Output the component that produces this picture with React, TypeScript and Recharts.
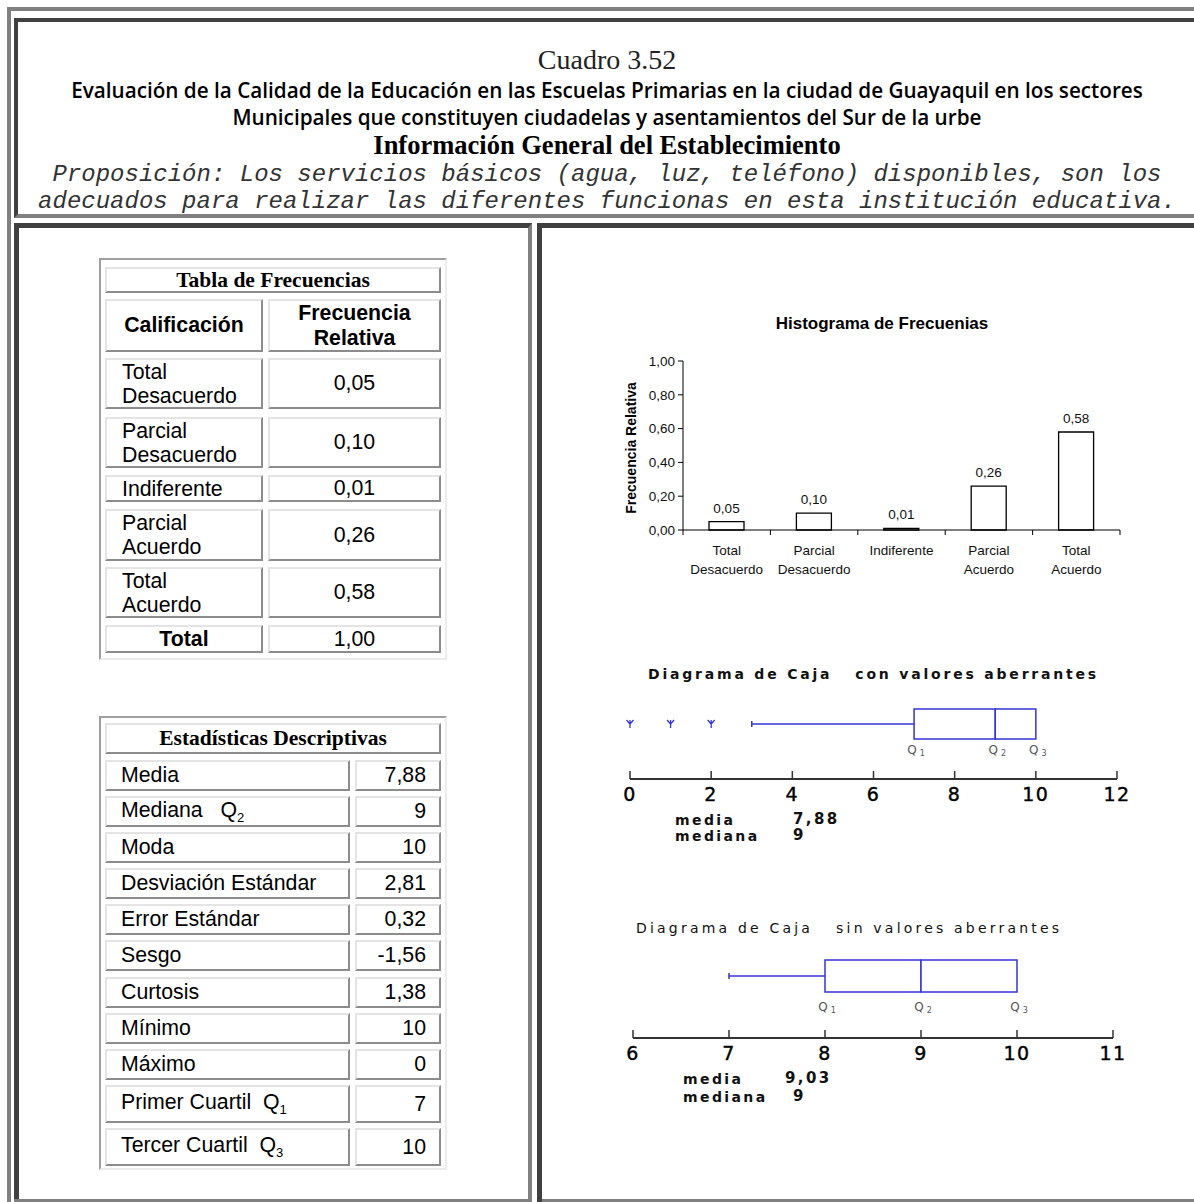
import React from 'react';
import {
  BarChart, Bar, XAxis, YAxis, LabelList,
  ScatterChart, Scatter, ReferenceArea, ReferenceLine,
} from 'recharts';

// ---- data ----
const categories = ['Total Desacuerdo', 'Parcial Desacuerdo', 'Indiferente', 'Parcial Acuerdo', 'Total Acuerdo'];
const relFreq = [0.05, 0.10, 0.01, 0.26, 0.58];
const freqText = ['0,05', '0,10', '0,01', '0,26', '0,58'];
const histTicks = [0, 0.2, 0.4, 0.6, 0.8, 1.0];

const statLabels = ['Media', 'Mediana', 'Moda', 'Desviación Estándar', 'Error Estándar', 'Sesgo', 'Curtosis', 'Mínimo', 'Máximo', 'Primer Cuartil', 'Tercer Cuartil'];
const statSubs = ['', '2', '', '', '', '', '', '', '', '1', '3'];
const statValues = ['7,88', '9', '10', '2,81', '0,32', '-1,56', '1,38', '10', '0', '7', '10'];

// box plot 1 (with outliers): low whisker, Q1, Q2, Q3
const box1Stats = [3, 7, 9, 10];
const box1Outliers = [0, 1, 2];
const box1Ticks = [0, 2, 4, 6, 8, 10, 12];
const box1Media = ['7,88', '9'];

// box plot 2 (without outliers)
const box2Stats = [7, 8, 9, 10];
const box2Ticks = [6, 7, 8, 9, 10, 11];
const box2Media = ['9,03', '9'];

const SANS = "'Liberation Sans', Arial, sans-serif";
const SERIF = "'Liberation Serif', 'Times New Roman', serif";
const WIDE = "'DejaVu Sans', Verdana, sans-serif";
const BLUE = '#3434d6';
const DARK = '#404040';
const GRAY = '#808080';

const abs = (x: number, y: number, w?: number, h?: number): React.CSSProperties => ({
  position: 'absolute', left: x, top: y, width: w, height: h, boxSizing: 'border-box',
});

function Cell({ x1, y1, x2, y2, children, style }: any) {
  return (
    <div style={{
      ...abs(x1, y1, x2 - x1, y2 - y1),
      borderTop: '2px solid #e4e4e4', borderLeft: '2px solid #e4e4e4',
      borderRight: '2px solid #8c8c8c', borderBottom: '2px solid #8c8c8c',
      display: 'flex', alignItems: 'center', fontFamily: SANS, fontSize: 21.3, color: '#000',
      whiteSpace: 'nowrap', ...style,
    }}>{children}</div>
  );
}

function Frame({ x1, y1, x2, y2 }: any) {
  return (
    <div style={{
      ...abs(x1, y1, x2 - x1, y2 - y1),
      borderTop: '2px solid #a0a0a0', borderLeft: '2px solid #a0a0a0',
      borderRight: '2px solid #ececec', borderBottom: '2px solid #ececec',
    }} />
  );
}

function FreqTable() {
  const rows = [[358, 409], [417, 468], [475, 502], [509, 561], [567, 618]];
  return (
    <>
      <Frame x1={99} y1={258} x2={447} y2={660} />
      <Cell x1={105} y1={267} x2={441} y2={293} style={{ justifyContent: 'center', fontFamily: SERIF, fontWeight: 'bold', fontSize: 21.5 }}>Tabla de Frecuencias</Cell>
      <Cell x1={105} y1={299} x2={263} y2={352} style={{ justifyContent: 'center', fontWeight: 'bold' }}>Calificación</Cell>
      <Cell x1={268} y1={299} x2={441} y2={352} style={{ justifyContent: 'center', fontWeight: 'bold', textAlign: 'center', lineHeight: '25px' }}>Frecuencia<br />Relativa</Cell>
      {categories.map((c, i) => (
        <React.Fragment key={c}>
          <Cell x1={105} y1={rows[i][0]} x2={263} y2={rows[i][1]} style={{ paddingLeft: 15, lineHeight: '24px' }}>
            <div>{c.split(' ').map((w, j) => <div key={j}>{w}</div>)}</div>
          </Cell>
          <Cell x1={268} y1={rows[i][0]} x2={441} y2={rows[i][1]} style={{ justifyContent: 'center' }}>{freqText[i]}</Cell>
        </React.Fragment>
      ))}
      <Cell x1={105} y1={625} x2={263} y2={653} style={{ justifyContent: 'center', fontWeight: 'bold' }}>Total</Cell>
      <Cell x1={268} y1={625} x2={441} y2={653} style={{ justifyContent: 'center' }}>1,00</Cell>
    </>
  );
}

function StatsTable() {
  const tops = [760, 796, 832, 868, 904, 940, 977, 1013, 1049, 1085, 1128];
  return (
    <>
      <Frame x1={99} y1={716} x2={447} y2={1170} />
      <Cell x1={105} y1={723} x2={441} y2={754} style={{ justifyContent: 'center', fontFamily: SERIF, fontWeight: 'bold', fontSize: 21.5 }}>Estadísticas Descriptivas</Cell>
      {statLabels.map((s, i) => {
        const h = i >= 9 ? 38 : 31;
        return (
          <React.Fragment key={s}>
            <Cell x1={105} y1={tops[i]} x2={350} y2={tops[i] + h} style={{ paddingLeft: 14 }}>
              <span>{s}{statSubs[i] && <>{i === 1 ? '\u00a0\u00a0\u00a0' : '\u00a0\u00a0'}Q<sub style={{ fontSize: 13 }}>{statSubs[i]}</sub></>}</span>
            </Cell>
            <Cell x1={355} y1={tops[i]} x2={441} y2={tops[i] + h} style={{ justifyContent: 'flex-end', paddingRight: 13 }}>{statValues[i]}</Cell>
          </React.Fragment>
        );
      })}
    </>
  );
}

const histData = categories.map((c, i) => ({ name: c, value: relFreq[i], label: freqText[i] }));

function CatTick(props: any) {
  const { x, y, payload, index } = props;
  const off = payload.offset || 43.7;
  const words = payload.value === 'Indiferente' ? ['Indiferente'] : String(payload.value).split(' ');
  return (
    <g>
      <line x1={x - off} x2={x - off} y1={y} y2={y + 5} stroke="#000" />
      {index === categories.length - 1 && <line x1={x + off} x2={x + off} y1={y} y2={y + 5} stroke="#000" />}
      {words.map((w, i) => (
        <text key={i} x={x} y={y + 25 + i * 19} textAnchor="middle" fontSize={13.5} fontFamily={SANS} fill="#111">{w}</text>
      ))}
    </g>
  );
}

function Histogram() {
  return (
    <div style={abs(600, 300, 540, 290)}>
      <BarChart width={540} height={290} data={histData} margin={{ top: 61, right: 20, left: 30, bottom: 0 }} barSize={35}>
        <XAxis dataKey="name" height={60} interval={0} tickLine={false} tickSize={0} tickMargin={0}
          axisLine={{ stroke: '#000' }} tick={<CatTick />} />
        <XAxis xAxisId="top" dataKey="name" orientation="top" height={0} tick={false} tickLine={false} axisLine={{ stroke: '#a0a0a0' }} />
        <YAxis width={53} domain={[0, 1]} ticks={histTicks} tickSize={5} tickMargin={3}
          axisLine={{ stroke: '#000' }} tickLine={{ stroke: '#000' }}
          tick={{ fontSize: 13.5, fill: '#111', fontFamily: SANS }}
          tickFormatter={(v: number) => v.toFixed(2).replace('.', ',')} />
        <YAxis yAxisId="right" orientation="right" width={0} domain={[0, 1]} tick={false} tickLine={false} axisLine={{ stroke: '#a0a0a0' }} />
        <Bar dataKey="value" fill="#fff" stroke="#000" strokeWidth={1.3} isAnimationActive={false}>
          <LabelList dataKey="label" position="top" offset={9} fontSize={13.5} fill="#111" fontFamily={SANS} />
        </Bar>
      </BarChart>
    </div>
  );
}

function NumTick(props: any) {
  const { x, y, payload } = props;
  return (
    <g>
      <line x1={x} x2={x} y1={y - 8} y2={y} stroke="#333" strokeWidth={1.5} />
      <text x={x} y={y + 22} textAnchor="middle" fontSize={19} fontFamily={WIDE} letterSpacing={1.5} fill="#000" stroke="#000" strokeWidth={0.4}>{payload.value}</text>
    </g>
  );
}

const Star = (p: any) => {
  const { cx, cy } = p;
  return (
    <path d={`M${cx},${cy - 4}L${cx},${cy + 4}M${cx - 3.5},${cy - 4}L${cx},${cy}M${cx + 3.5},${cy - 4}L${cx},${cy}`}
      stroke={BLUE} strokeWidth={1.3} fill="none" />
  );
};

const QText = (p: any) => (
  <text x={p.cx + 2} y={p.cy + 4} textAnchor="middle" fontSize={12} fontFamily={WIDE} fill="#555">
    Q<tspan fontSize={8} dx={3} dy={2}>{p.payload.sub}</tspan>
  </text>
);

function BoxPlot({ top, ml, mr, stats, outliers, ticks, yLo, yHi, yMid, yLbl }: any) {
  const [lw, q1, q2, q3] = stats;
  const qLabels = [{ v: q1, h: yLbl, sub: '1' }, { v: q2, h: yLbl, sub: '2' }, { v: q3, h: yLbl, sub: '3' }];
  const outData = (outliers || []).map((v: number) => ({ v, h: yMid }));
  return (
    <div style={abs(600, top, 560, 200)}>
      <ScatterChart width={560} height={200} margin={{ top: 39, right: mr, left: ml, bottom: 0 }}>
        <XAxis type="number" dataKey="v" domain={[ticks[0], ticks[ticks.length - 1]]} ticks={ticks} height={81}
          tickLine={false} tickSize={0} tickMargin={0} axisLine={{ stroke: '#333', strokeWidth: 2 }}
          tick={<NumTick />} />
        <YAxis type="number" dataKey="h" domain={[0, 8]} hide />
        <ReferenceLine segment={[{ x: lw, y: yMid }, { x: q1, y: yMid }]} stroke={BLUE} strokeWidth={1.5} />
        <ReferenceLine segment={[{ x: lw, y: yMid - 0.3 }, { x: lw, y: yMid + 0.3 }]} stroke={BLUE} strokeWidth={1.5} />
        <ReferenceArea x1={q1} x2={q2} y1={yLo} y2={yHi} fill="#fff" fillOpacity={1} stroke={BLUE} strokeWidth={1.5} />
        <ReferenceArea x1={q2} x2={q3} y1={yLo} y2={yHi} fill="#fff" fillOpacity={1} stroke={BLUE} strokeWidth={1.5} />
        {outData.length > 0 && <Scatter data={outData} shape={<Star />} isAnimationActive={false} />}
        <Scatter data={qLabels} shape={<QText />} isAnimationActive={false} />
      </ScatterChart>
    </div>
  );
}

const boxTitle: React.CSSProperties = {
  fontFamily: WIDE, fontWeight: 'bold', fontSize: 14, letterSpacing: 2.8, whiteSpace: 'pre', color: '#111', lineHeight: '16px',
};
const mediaStyle: React.CSSProperties = {
  fontFamily: WIDE, fontWeight: 'bold', fontSize: 14, letterSpacing: 2.4, whiteSpace: 'pre', color: '#111', lineHeight: '16px',
};

export default function App() {
  const headLine = (y: number, lh: number, style: React.CSSProperties, text: string) => (
    <div style={{ ...abs(14, y - lh / 2, 1186, lh), textAlign: 'center', lineHeight: `${lh}px`, whiteSpace: 'pre', color: '#000', ...style }}>{text}</div>
  );
  return (
    <div style={{ ...abs(0, 0, 1194, 1202), overflow: 'hidden', background: '#fff' }}>
      {/* outer table border */}
      <div style={{ ...abs(7, 7, 1300, 1300), borderTop: `4px solid ${GRAY}`, borderLeft: `4px solid ${GRAY}` }} />
      {/* header cell */}
      <div style={{ ...abs(14, 18, 1300, 200), borderTop: `4px solid ${DARK}`, borderLeft: `4px solid ${DARK}`, borderBottom: `4px solid ${GRAY}` }} />
      {/* left cell */}
      <div style={{ ...abs(14, 223, 518, 1000), borderTop: `5px solid ${DARK}`, borderLeft: `5px solid ${DARK}`, borderRight: `4px solid ${GRAY}` }} />
      <div style={{ ...abs(14, 1199, 518, 3), background: GRAY }} />
      {/* right cell */}
      <div style={{ ...abs(537, 223, 800, 1000), borderTop: `5px solid ${DARK}`, borderLeft: `5px solid ${DARK}` }} />
      <div style={{ ...abs(542, 1199, 800, 3), background: GRAY }} />

      {headLine(60, 32, { fontFamily: SERIF, fontSize: 28, color: '#222' }, 'Cuadro 3.52')}
      {headLine(90, 26, { fontFamily: "'Open Sans', sans-serif", fontWeight: 600, fontSize: 20.7 }, 'Evaluación de la Calidad de la Educación en las Escuelas Primarias en la ciudad de Guayaquil en los sectores')}
      {headLine(117, 26, { fontFamily: "'Open Sans', sans-serif", fontWeight: 600, fontSize: 20.7 }, 'Municipales que constituyen ciudadelas y asentamientos del Sur de la urbe')}
      {headLine(145, 28, { fontFamily: SERIF, fontWeight: 'bold', fontSize: 26.5 }, 'Información General del Establecimiento')}
      {headLine(174, 27, { fontFamily: "'Liberation Mono', monospace", fontStyle: 'italic', fontSize: 24, color: '#333' }, 'Proposición: Los servicios básicos (agua, luz, teléfono) disponibles, son los')}
      {headLine(201, 27, { fontFamily: "'Liberation Mono', monospace", fontStyle: 'italic', fontSize: 24, color: '#333' }, 'adecuados para realizar las diferentes funcionas en esta institución educativa.')}

      <FreqTable />
      <StatsTable />

      <div style={{ ...abs(700, 313, 364, 22), textAlign: 'center', fontFamily: SANS, fontWeight: 'bold', fontSize: 17, lineHeight: '22px' }}>Histograma de Frecuenias</div>
      <div style={{ position: 'absolute', left: 631, top: 448, transform: 'translate(-50%, -50%) rotate(-90deg)', whiteSpace: 'nowrap', fontFamily: SANS, fontWeight: 'bold', fontSize: 14 }}>Frecuencia Relativa</div>
      <Histogram />

      <div style={{ ...abs(648, 666), ...boxTitle }}>{'Diagrama de Caja   con valores aberrantes'}</div>
      <BoxPlot top={660} ml={30} mr={43} stats={box1Stats} outliers={box1Outliers} ticks={box1Ticks} yLo={4} yHi={7} yMid={5.5} yLbl={2.9} />
      <div style={{ ...abs(675, 812), ...mediaStyle }}>media</div>
      <div style={{ ...abs(793, 811), ...mediaStyle, fontSize: 15 }}>{box1Media[0]}</div>
      <div style={{ ...abs(675, 828), ...mediaStyle }}>mediana</div>
      <div style={{ ...abs(793, 827), ...mediaStyle, fontSize: 15 }}>{box1Media[1]}</div>

      <div style={{ ...abs(636, 920), ...boxTitle, fontWeight: 'normal', letterSpacing: 3.2 }}>{'Diagrama de Caja   sin valores aberrantes'}</div>
      <BoxPlot top={919} ml={33} mr={47} stats={box2Stats} ticks={box2Ticks} yLo={4.6} yHi={7.8} yMid={6.2} yLbl={3.1} />
      <div style={{ ...abs(683, 1071), ...mediaStyle }}>media</div>
      <div style={{ ...abs(785, 1070), ...mediaStyle, fontSize: 15 }}>{box2Media[0]}</div>
      <div style={{ ...abs(683, 1089), ...mediaStyle }}>mediana</div>
      <div style={{ ...abs(793, 1088), ...mediaStyle, fontSize: 15 }}>{box2Media[1]}</div>
    </div>
  );
}
